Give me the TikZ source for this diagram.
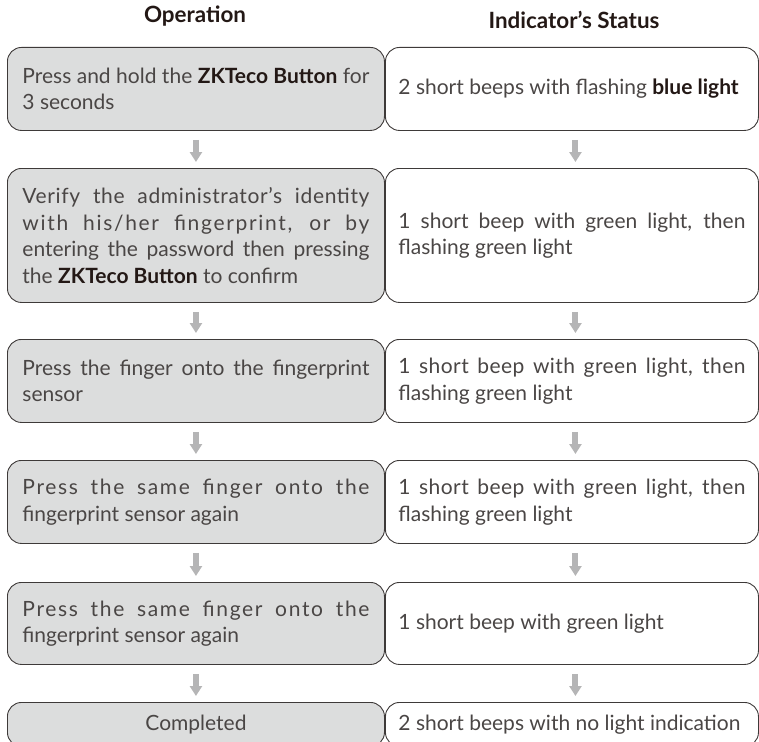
\documentclass[tikz,border=0pt]{standalone}
\usepackage{fontspec}
\setmainfont{Lato}
\usetikzlibrary{arrows.meta}
\definecolor{boxgray}{HTML}{DCDDDD}
\definecolor{txt}{HTML}{4A4645}
\definecolor{dark}{HTML}{231815}
\definecolor{edge}{HTML}{3E3A39}
\definecolor{arrowgray}{HTML}{B5B5B6}
\newcommand\boldtxt[1]{\textbf{\color{dark}#1}}
\newcommand\spaced[2]{{\addfontfeature{LetterSpace=#1}#2}}
\begin{document}
\begin{tikzpicture}[x=1pt,y=-1pt,
  basebox/.style={draw=edge, line width=0.9pt, rounded corners=14pt,
    inner ysep=0pt, anchor=north west, text=txt,
    font=\fontsize{21}{26.5}\selectfont, align=justify},
  opbox/.style={basebox, fill=boxgray, text width=347pt, inner xsep=15pt},
  stbox/.style={basebox, fill=white, text width=347pt, inner xsep=13pt},
  head/.style={font=\fontsize{22.4}{26}\selectfont\bfseries, text=dark, inner sep=0pt},
  garrow/.style={draw=arrowgray, line width=6pt,
    -{Triangle[width=12pt,length=10pt]}, shorten <=9pt, shorten >=6pt}]
\useasboundingbox (0,0) rectangle (759,741);
\clip (0,0) rectangle (759,741);

\node[head] (h1) at (195,16) {Operation};
\node[head] (h2) at (574,20) {Indicator’s Status};

% row 1
\node[opbox, minimum height=83pt] (L1) at (7,47)
  {Press and hold the \boldtxt{ZKTeco Button} for\linebreak 3 seconds};
\node[stbox, minimum height=83pt] (R1) at (385,47)
  {2 short beeps with flashing \boldtxt{blue light}};
% row 2
\node[opbox, minimum height=134pt] (L2) at (7,168)
  {\spaced{3}{Verify the administrator’s identity}\linebreak \spaced{8}{with his/her fingerprint, or by}\linebreak entering the password then pressing\linebreak the \boldtxt{ZKTeco Button} to confirm};
\node[stbox, minimum height=134pt] (R2) at (385,168)
  {1 short beep with green light, then\linebreak flashing green light};
% row 3
\node[opbox, minimum height=83pt] (L3) at (7,339)
  {Press the finger onto the fingerprint\linebreak sensor};
\node[stbox, minimum height=83pt] (R3) at (385,339)
  {\spaced{2}{1 short beep with green light, then}\linebreak flashing green light};
% row 4
\node[opbox, minimum height=83pt] (L4) at (7,460)
  {\spaced{8}{Press the same finger onto the}\linebreak fingerprint sensor again};
\node[stbox, minimum height=83pt] (R4) at (385,460)
  {\spaced{2}{1 short beep with green light, then}\linebreak flashing green light};
% row 5
\node[opbox, minimum height=82pt] (L5) at (7,582)
  {\spaced{8}{Press the same finger onto the}\linebreak fingerprint sensor again};
\node[stbox, minimum height=82pt] (R5) at (385,582)
  {1 short beep with green light};
% row 6
\node[opbox, minimum height=44pt, align=center] (L6) at (7,702)
  {Completed};
\node[stbox, minimum height=44pt] (R6) at (385,702)
  {2 short beeps with no light indication};

% arrows
\foreach \a/\b in {L1/L2,L2/L3,L3/L4,L4/L5,L5/L6}
  \draw[garrow] (\a.south) -- (\b.north);
\foreach \a/\b in {R1/R2,R2/R3,R3/R4,R4/R5,R5/R6}
  \draw[garrow] ([xshift=3.5pt]\a.south) -- ([xshift=3.5pt]\b.north);
\end{tikzpicture}
\end{document}
